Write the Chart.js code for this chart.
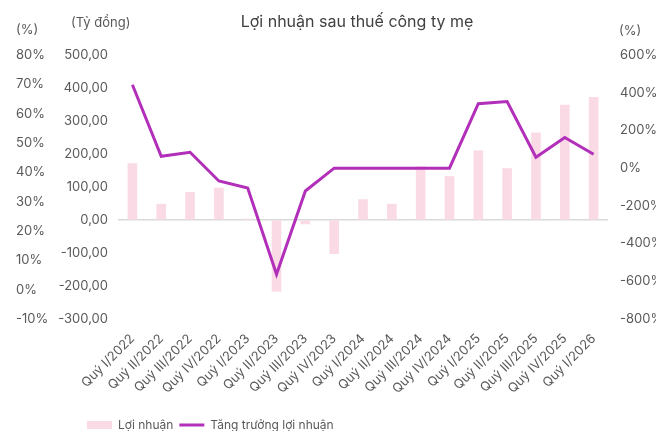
<!DOCTYPE html>
<html>
<head>
<meta charset="utf-8">
<script src="https://cdn.jsdelivr.net/npm/chart.js@4"></script>
<style>
  html, body { margin: 0; padding: 0; background: #fff; }
  #wrap { width: 656px; height: 431px; }
</style>
</head>
<body>
<div id="wrap"><canvas id="profit-chart"></canvas></div>
<script>
// data
const quarters = ['Quý I/2022', 'Quý II/2022', 'Quý III/2022', 'Quý IV/2022',
  'Quý I/2023', 'Quý II/2023', 'Quý III/2023', 'Quý IV/2023',
  'Quý I/2024', 'Quý II/2024', 'Quý III/2024', 'Quý IV/2024',
  'Quý I/2025', 'Quý II/2025', 'Quý III/2025', 'Quý IV/2025', 'Quý I/2026'];
const profit = [171, 48, 84, 97, 3, -216, -12, -102, 62, 48, 162, 132, 210, 156, 264, 348, 372];
const growth = [442, 63, 84, -68, -105, -563, -121, 0, 0, 0, 0, 0, 342, 353, 58, 163, 74];

const titleText = 'Lợi nhuận sau thuế công ty mẹ';
const unitLeftPct = '(%)';
const unitMoney = '(Tỷ đồng)';
const unitRightPct = '(%)';

const textColor = '#595959';
const fontFamily = 'Inter, "Open Sans", sans-serif';

Chart.defaults.font.family = fontFamily;
Chart.defaults.font.size = 13;
Chart.defaults.color = textColor;

// title + axis units drawn on the canvas, legend nudged right
const headerPlugin = {
  id: 'header',
  afterLayout(chart) {
    chart.legend.left = 81;
  },
  afterDraw(chart) {
    const ctx = chart.ctx;
    const area = chart.chartArea;
    ctx.save();
    ctx.textBaseline = 'middle';
    ctx.fillStyle = '#404040';
    ctx.font = '16px ' + fontFamily;
    ctx.textAlign = 'center';
    ctx.fillText(titleText, (area.left + area.right) / 2 - 6, 22);

    ctx.fillStyle = textColor;
    ctx.font = '13px ' + fontFamily;
    ctx.textAlign = 'left';
    ctx.fillText(unitLeftPct, chart.scales.yPct.left, 30);
    ctx.fillText(unitMoney, chart.scales.y.left + 13, 23);
    ctx.fillText(unitRightPct, chart.scales.y2.left + 11, 31);
    ctx.restore();
  }
};

new Chart(document.querySelector('#profit-chart').getContext('2d'), {
  type: 'bar',
  data: {
    labels: quarters,
    datasets: [{
      type: 'bar',
      label: 'Lợi nhuận',
      data: profit,
      yAxisID: 'y',
      backgroundColor: '#fadbe5',
      borderWidth: 0,
      barThickness: 9,
      pointStyle: 'rect',
      order: 1
    }, {
      type: 'line',
      label: 'Tăng trưởng lợi nhuận',
      data: growth,
      yAxisID: 'y2',
      borderColor: '#b22fba',
      backgroundColor: '#b22fba',
      borderWidth: 3,
      pointRadius: 0,
      tension: 0,
      pointStyle: 'line',
      order: 0
    }]
  },
  options: {
    responsive: true,
    maintainAspectRatio: false,
    animation: false,
    layout: { padding: { left: 16, right: 0, top: 55, bottom: -10 } },
    plugins: {
      title: { display: false },
      tooltip: { enabled: false },
      legend: {
        position: 'bottom',
        align: 'start',
        labels: {
          usePointStyle: true,
          pointStyleWidth: 25,
          boxHeight: 8,
          padding: 6,
          color: textColor,
          font: { size: 12 },
          sort: (a, b) => a.datasetIndex - b.datasetIndex
        }
      }
    },
    scales: {
      x: {
        offset: true,
        grid: { display: false, drawTicks: false },
        border: { display: false },
        ticks: { minRotation: 45, maxRotation: 45, autoSkip: false, padding: 12, color: textColor },
        afterFit(scale) { scale.height = 94; }
      },
      yPct: {
        position: 'left',
        weight: 1,
        min: -10,
        max: 80,
        grid: { display: false, drawTicks: false },
        border: { display: false },
        ticks: {
          stepSize: 10, autoSkip: false, crossAlign: 'far', padding: 0,
          callback: v => v + '%'
        },
        afterFit(scale) { scale.width = 42; }
      },
      y: {
        position: 'left',
        weight: 0,
        min: -300,
        max: 500,
        grid: {
          drawTicks: false,
          color: ctx => ctx.tick && ctx.tick.value === 0 ? '#d9d9d9' : 'rgba(0,0,0,0)',
          lineWidth: 1.5
        },
        border: { display: false },
        ticks: {
          stepSize: 100, autoSkip: false, padding: 10,
          callback: v => v.toFixed(2).replace('.', ',')
        },
        afterFit(scale) { scale.width = 60; }
      },
      y2: {
        position: 'right',
        min: -800,
        max: 600,
        grid: { display: false, drawTicks: false },
        border: { display: false },
        ticks: { stepSize: 200, autoSkip: false, padding: 12, callback: v => v + '%' },
        afterFit(scale) { scale.width = 48; }
      }
    }
  },
  plugins: [headerPlugin]
});
</script>
</body>
</html>
